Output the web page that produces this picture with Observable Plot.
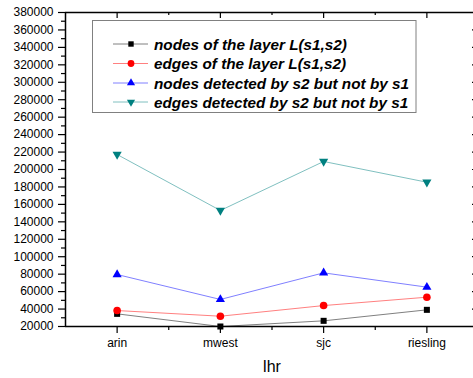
<!DOCTYPE html>
<html>
<head>
<meta charset="utf-8">
<script src="https://cdn.jsdelivr.net/npm/d3@7"></script>
<script src="https://cdn.jsdelivr.net/npm/@observablehq/plot@0.6"></script>
<style>
  html, body { margin: 0; padding: 0; background: #fff; }
  #chart { position: relative; width: 473px; height: 378px; overflow: hidden; }
</style>
</head>
<body>
<div id="chart"></div>
<script>
const categories = ["arin", "mwest", "sjc", "riesling"];
const seriesNames = [
  "nodes of the layer L(s1,s2)",
  "edges of the layer L(s1,s2)",
  "nodes detected by s2 but not by s1",
  "edges detected by s2 but not by s1"
];
const nodesLayer    = [34500, 20000, 26500, 39100];
const edgesLayer    = [38300, 31800, 44000, 53600];
const nodesDetected = [79600, 51000, 81500, 65100];
const edgesDetected = [217200, 153000, 209200, 185400];
const yMajorTicks = d3.range(20000, 380001, 20000);
const yMinorTicks = d3.range(30000, 380000, 20000);
const xMinorTicks = [1.5, 2.5, 3.5];

const seriesValues = [nodesLayer, edgesLayer, nodesDetected, edgesDetected];
const lineColors = ["#808080", "#ff8080", "#8080ff", "#80c0c0"];
const markColors = ["#000000", "#ff0000", "#0000ff", "#008080"];

const triangleDown = {
  draw(context, size) {
    const y = -Math.sqrt(size / (3 * Math.sqrt(3)));
    context.moveTo(0, -y * 2);
    context.lineTo(-Math.sqrt(3) * y, y);
    context.lineTo(Math.sqrt(3) * y, y);
    context.closePath();
  }
};
const symbols = [d3.symbolSquare, d3.symbolCircle, d3.symbolTriangle, triangleDown];
const radii = [3.4, 3.8, 3.4, 3.4];

const data = seriesNames.flatMap((s, i) =>
  seriesValues[i].map((v, j) => ({series: s, idx: i, x: j + 1, y: v})));

const W = 473, H = 378;
const mL = 65, mT = 12, mB = 52, mR = -5;
const pxPerUnitY = (H - mB - mT) / 360000;
const pxPerUnitX = (W - mR - mL) / 4;

const marks = [];
seriesNames.forEach((s, i) => {
  marks.push(Plot.line(data.filter(d => d.idx === i), {
    x: "x", y: "y", stroke: lineColors[i], strokeWidth: 1
  }));
});
marks.push(Plot.ruleY([380000], {stroke: "#000", strokeWidth: 1.5}));
marks.push(Plot.ruleY([20000], {stroke: "#000", strokeWidth: 1.5}));
marks.push(Plot.ruleX([0.5], {stroke: "#000", strokeWidth: 1.5}));
marks.push(Plot.ruleX([4.5], {stroke: "#000", strokeWidth: 1.5}));
marks.push(Plot.axisY(yMajorTicks, {anchor: "left", tickSize: 7, tickPadding: 5,
  tickFormat: d => String(d), fontSize: 12, label: null, strokeWidth: 1.2}));
marks.push(Plot.axisY(yMinorTicks, {anchor: "left", tickSize: 4, tickFormat: () => "",
  label: null, strokeWidth: 1.2}));
marks.push(Plot.ruleY(yMajorTicks, {y: d => d, x1: 4.5 - 6 / pxPerUnitX, x2: 4.5, stroke: "#000", strokeWidth: 1.2}));
marks.push(Plot.ruleY(yMinorTicks, {y: d => d, x1: 4.5 - 3 / pxPerUnitX, x2: 4.5, stroke: "#000", strokeWidth: 1.2}));
marks.push(Plot.axisX([1, 2, 3, 4], {anchor: "bottom", tickSize: 7, tickPadding: 5,
  tickFormat: d => categories[d - 1], fontSize: 12, label: null, strokeWidth: 1.2}));
marks.push(Plot.axisX(xMinorTicks, {anchor: "bottom", tickSize: 4, tickFormat: () => "",
  label: null, strokeWidth: 1.2}));
marks.push(Plot.ruleX([1, 2, 3, 4], {x: d => d, y1: 380000 - 6 / pxPerUnitY, y2: 380000, stroke: "#000", strokeWidth: 1.2}));
marks.push(Plot.ruleX(xMinorTicks, {x: d => d, y1: 380000 - 3 / pxPerUnitY, y2: 380000, stroke: "#000", strokeWidth: 1.2}));
marks.push(Plot.text(["lhr"], {frameAnchor: "bottom", dy: 40, fontSize: 16, lineAnchor: "middle", fill: "#000"}));
seriesNames.forEach((s, i) => {
  marks.push(Plot.dot(data.filter(d => d.idx === i), {
    x: "x", y: "y", symbol: symbols[i], r: radii[i], fill: markColors[i], stroke: "none"
  }));
});

const chart = Plot.plot({
  width: W, height: H,
  marginLeft: mL, marginTop: mT, marginBottom: mB, marginRight: mR,
  x: {domain: [0.5, 4.5], axis: null},
  y: {domain: [20000, 380000], axis: null},
  style: {fontFamily: "Arial, 'Liberation Sans', sans-serif", fontSize: "12px", color: "#000", background: "#fff", overflow: "hidden"},
  marks
});
document.getElementById("chart").appendChild(chart);

const svg = d3.select(chart);
const lg = svg.append("g").attr("class", "legend").attr("text-anchor", "start");
lg.append("rect").attr("x", 92.5).attr("y", 20.5).attr("width", 323.5).attr("height", 92)
  .attr("fill", "#fff").attr("stroke", "#808080").attr("stroke-width", 1);
const rowY = [44, 63.5, 83, 102];
seriesNames.forEach((s, i) => {
  const g = lg.append("g").attr("transform", `translate(0,${rowY[i]})`);
  g.append("line").attr("x1", 113).attr("x2", 148).attr("y1", 0).attr("y2", 0)
    .attr("stroke", lineColors[i]).attr("stroke-width", 1);
  g.append("path").attr("transform", "translate(131,0)")
    .attr("d", d3.symbol(symbols[i], Math.PI * radii[i] * radii[i] * 0.8)())
    .attr("fill", markColors[i]);
  g.append("text").attr("x", 154).attr("y", 0).attr("dy", "0.36em")
    .attr("text-anchor", "start")
    .attr("font-size", 15.3).attr("font-weight", "bold").attr("font-style", "italic")
    .attr("fill", "#000").text(s);
});
</script>
</body>
</html>
